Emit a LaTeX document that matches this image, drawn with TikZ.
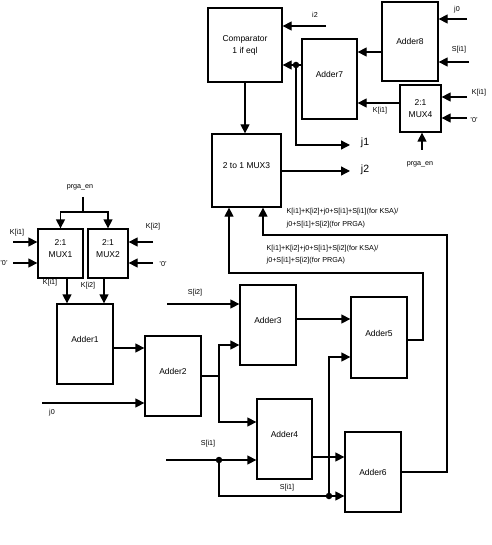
\documentclass[tikz,border=0pt]{standalone}
\usepackage{fontspec}
\setmainfont{Liberation Sans}
\usetikzlibrary{arrows.meta}
\begin{document}
\begin{tikzpicture}[x=1pt,y=-1pt, line width=1.3pt,
  blk/.style={draw, line width=1.3pt, font=\fontsize{8.5}{12}\selectfont, align=center, inner sep=0pt},
  upt/.style={text depth=9pt},
  arr/.style={-{Triangle[length=9pt,width=9pt]}},
  lbl/.style={font=\fontsize{7.2}{12.5}\selectfont, inner sep=0pt},
  big/.style={font=\fontsize{10.5}{12}\selectfont, inner sep=0pt},
  dot/.style={circle, fill, inner sep=0pt, minimum size=6.5pt}]
\useasboundingbox (0,0) rectangle (491,545);
% boxes
\node[blk, minimum width=74pt, minimum height=74pt] (comp) at (245,45) {Comparator\\1 if eql};
\node[blk, upt, minimum width=55pt, minimum height=80pt] (add7) at (329.5,79) {Adder7};
\node[blk, minimum width=56pt, minimum height=79pt] (add8) at (410,41.5) {Adder8};
\node[blk, minimum width=41pt, minimum height=47pt] (mux4) at (420.5,108.5) {2:1\\MUX4};
\node[blk, upt, minimum width=69pt, minimum height=73pt] (mux3) at (246.5,170.5) {2 to 1 MUX3};
\node[blk, upt, minimum width=45pt, minimum height=49pt] (mux1) at (60.5,253.5) {2:1\\MUX1};
\node[blk, upt, minimum width=40pt, minimum height=49pt] (mux2) at (108,253.5) {2:1\\MUX2};
\node[blk, upt, minimum width=56pt, minimum height=80pt] (add1) at (85,344) {Adder1};
\node[blk, upt, minimum width=56pt, minimum height=80pt] (add2) at (173,376) {Adder2};
\node[blk, upt, minimum width=56pt, minimum height=80pt] (add3) at (268,325) {Adder3};
\node[blk, upt, minimum width=55pt, minimum height=80pt] (add4) at (284.5,439) {Adder4};
\node[blk, upt, minimum width=56pt, minimum height=81pt] (add5) at (379,337.5) {Adder5};
\node[blk, minimum width=56pt, minimum height=80pt] (add6) at (373,472) {Adder6};
% top part
\coordinate (i2s) at (326,26);
\draw[arr] (i2s) -- (comp.east |- i2s);
\node[lbl] (i2l) at (315,15) {i2};
\coordinate (j0s) at (467,19);
\draw[arr] (j0s) -- (add8.east |- j0s);
\node[lbl] (j0l) at (457,10) {j0};
\coordinate (s1s) at (469,62);
\draw[arr] (s1s) -- (add8.east |- s1s);
\node[lbl] (s1l) at (459,50) {S[i1]};
\coordinate (a87) at (382,52);
\draw[arr] (add8.west |- a87) -- (add7.east |- a87);
\coordinate (c7) at (296,65);
\draw[arr] (add7.west |- c7) -- (comp.east |- c7);
\coordinate (j1e) at (350,145);
\draw[arr] (c7) |- (j1e);
\node[dot] (dt7) at (c7) {};
\node[big] (j1l) at (365,143) {j1};
\coordinate (m47) at (400,103);
\draw[arr] (mux4.west |- m47) -- (add7.east |- m47);
\node[lbl] (k1m4) at (380,111) {K[i1]};
\coordinate (k4s) at (467,97);
\draw[arr] (k4s) -- (mux4.east |- k4s);
\node[lbl] (k4l) at (479,93) {K[i1]};
\coordinate (z4s) at (467,118);
\draw[arr] (z4s) -- (mux4.east |- z4s);
\node[lbl] (z4l) at (474,120) {'0'};
\coordinate (p4s) at (422,150);
\draw[arr] (p4s) -- (p4s |- mux4.south);
\node[lbl] (p4l) at (420,164) {prga\_en};
\draw[arr] (comp.south) -- (comp.south |- mux3.north);
\coordinate (j2e) at (350,171);
\draw[arr] (mux3.east |- j2e) -- (j2e);
\node[big] (j2l) at (365,170) {j2};
% feedback lines
\coordinate (f5) at (423,340);
\coordinate (f5t) at (229,273);
\draw[arr] (add5.east |- f5) -- (f5) |- (f5t) -- (f5t |- mux3.south);
\node[lbl, anchor=west, align=left] (lab5) at (266,254.5) {K[i1]+K[i2]+j0+S[i1]+S[i2](for KSA)/\\j0+S[i1]+S[i2](for PRGA)};
\coordinate (f6) at (447,472);
\coordinate (f6t) at (263,235);
\draw[arr] (add6.east |- f6) -- (f6) |- (f6t) -- (f6t |- mux3.south);
\node[lbl, anchor=west, align=left] (lab6) at (286,218) {K[i1]+K[i2]+j0+S[i1]+S[i1](for KSA)/\\j0+S[i1]+S[i2](for PRGA)};
% left part
\node[lbl] (pl) at (80,187) {prga\_en};
\coordinate (ps) at (83,197);
\coordinate (pj) at (83,212);
\draw (ps) -- (pj);
\draw[arr] (pj) -| (mux1.north);
\draw[arr] (pj) -| (mux2.north);
\coordinate (k1s) at (13,242);
\draw[arr] (k1s) -- (mux1.west |- k1s);
\node[lbl] (k1l) at (17,233) {K[i1]};
\coordinate (z1s) at (13,263);
\draw[arr] (z1s) -- (mux1.west |- z1s);
\node[lbl] (z1l) at (4,263) {'0'};
\coordinate (k2s) at (153,242);
\draw[arr] (k2s) -- (mux2.east |- k2s);
\node[lbl] (k2l) at (153,227) {K[i2]};
\coordinate (z2s) at (153,263);
\draw[arr] (z2s) -- (mux2.east |- z2s);
\node[lbl] (z2l) at (163,264) {'0'};
\coordinate (m1o) at (67,278);
\draw[arr] (m1o |- mux1.south) -- (m1o |- add1.north);
\node[lbl] (m1l) at (50,283) {K[i1]};
\coordinate (m2o) at (104,278);
\draw[arr] (m2o |- mux2.south) -- (m2o |- add1.north);
\node[lbl] (m2l) at (88,286) {K[i2]};
\coordinate (a12) at (113,348);
\draw[arr] (add1.east |- a12) -- (add2.west |- a12);
\coordinate (j0a) at (42,403);
\draw[arr] (j0a) -- (add2.west |- j0a);
\node[lbl] (j0al) at (52,413) {j0};
\coordinate (s2s) at (167,304);
\draw[arr] (s2s) -- (add3.west |- s2s);
\node[lbl] (s2l) at (195,293) {S[i2]};
\coordinate (b2) at (219,376);
\draw (add2.east |- b2) -- (b2);
\coordinate (a3i) at (240,345);
\coordinate (a4i) at (257,422);
\draw[arr] (b2) |- (add3.west |- a3i);
\draw[arr] (b2) |- (add4.west |- a4i);
\coordinate (a35) at (296,319);
\draw[arr] (add3.east |- a35) -- (add5.west |- a35);
\coordinate (s1a) at (166,460);
\coordinate (d1) at (219,460);
\draw[arr] (s1a) -- (add4.west |- s1a);
\node[lbl] (s1al) at (208,444) {S[i1]};
\coordinate (d2) at (329,496);
\draw[arr] (d1) |- (add6.west |- d2);
\node[lbl] (s1bl) at (287,488) {S[i1]};
\coordinate (a5i) at (351,357);
\draw[arr] (d2) |- (add5.west |- a5i);
\coordinate (a46) at (312,457);
\draw[arr] (add4.east |- a46) -- (add6.west |- a46);
\node[dot] (dt1) at (d1) {};
\node[dot] (dt2) at (d2) {};
\end{tikzpicture}
\end{document}
